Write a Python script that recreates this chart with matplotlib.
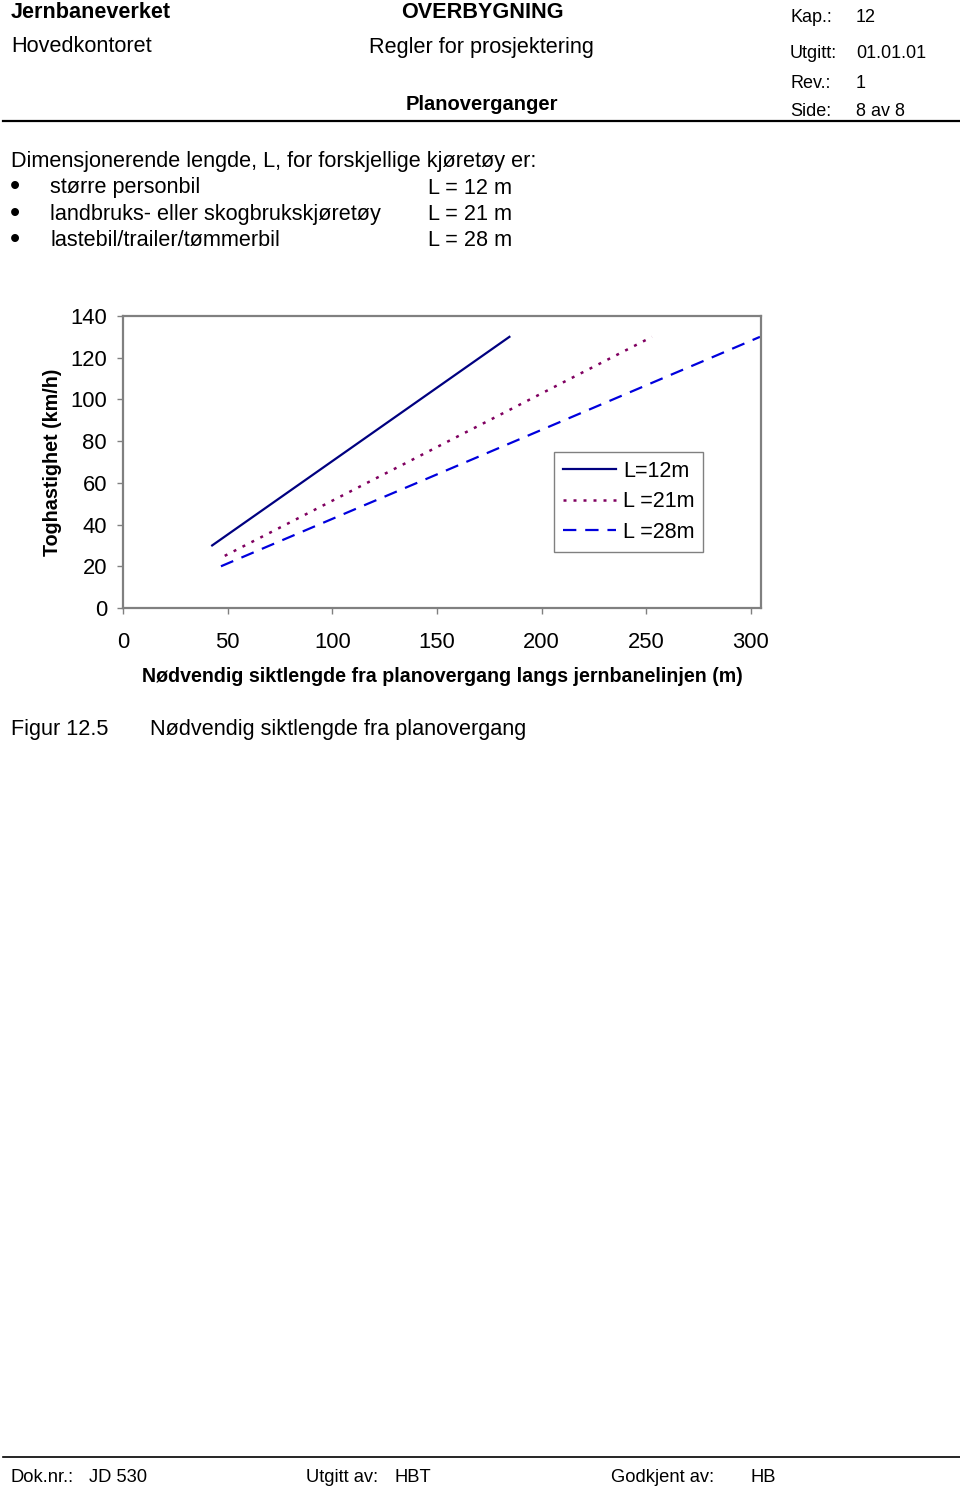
import matplotlib
matplotlib.use("Agg")
import matplotlib.pyplot as plt
from matplotlib.lines import Line2D

plt.rcParams['font.family'] = ['Liberation Sans', 'DejaVu Sans']

# data (speed km/h -> sight distance m)
fart_12 = [30, 40, 50, 60, 70, 80, 90, 100, 110, 120, 130]
sikt_12 = [42.6, 56.8, 71.0, 85.2, 99.4, 113.6, 127.8, 142.0, 156.2, 170.4, 184.6]
fart_21 = [25, 30, 40, 50, 60, 70, 80, 90, 100, 110, 120, 130]
sikt_21 = [48.6, 58.3, 77.8, 97.2, 116.6, 136.1, 155.5, 175.0, 194.4, 213.8, 233.3, 252.7]
fart_28 = [20, 30, 40, 50, 60, 70, 80, 90, 100, 110, 120, 130]
sikt_28 = [46.8, 70.2, 93.6, 117.0, 140.5, 163.9, 187.3, 210.7, 234.1, 257.5, 281.0, 304.3]
x_ticks = [0, 50, 100, 150, 200, 250, 300]
y_ticks = [0, 20, 40, 60, 80, 100, 120, 140]
etiketter = ['L=12m', 'L =21m', 'L =28m']

W, H = 960, 1487
fig = plt.figure(figsize=(9.6, 14.87), dpi=100)

def fx(px):
    return px / W

def fy(py):
    return 1 - (py + 2) / H  # text sits a bit lower than its centre

fs = 15.6  # body size

# header
fig.text(fx(11), fy(11), 'Jernbaneverket', fontsize=fs, fontweight='bold', va='center')
fig.text(fx(11), fy(45), 'Hovedkontoret', fontsize=fs, va='center')
fig.text(fx(482), fy(11), 'OVERBYGNING', fontsize=fs, fontweight='bold', va='center', ha='center')
fig.text(fx(481), fy(45), 'Regler for prosjektering', fontsize=fs, va='center', ha='center')
fig.text(fx(482), fy(103), 'Planoverganger', fontsize=14.5, fontweight='bold', va='center', ha='center')
for lab, val, yy in [('Kap.:', '12', 16), ('Utgitt:', '01.01.01', 51),
                     ('Rev.:', '1', 81), ('Side:', '8 av 8', 110)]:
    fig.text(fx(790), fy(yy), lab, fontsize=13, va='center')
    fig.text(fx(856), fy(yy), val, fontsize=13, va='center')
fig.add_artist(Line2D([fx(3), fx(960)], [1 - 121 / H, 1 - 121 / H], color='black', lw=1.6))

# body text
fig.text(fx(11), fy(160), 'Dimensjonerende lengde, L, for forskjellige kjøretøy er:', fontsize=fs, va='center')
rader = [('større personbil', 'L = 12 m'),
         ('landbruks- eller skogbrukskjøretøy', 'L = 21 m'),
         ('lastebil/trailer/tømmerbil', 'L = 28 m')]
for i, (a, b) in enumerate(rader):
    yy = 186 + i * 26.5
    fig.text(fx(10), fy(yy - 1), '•', fontsize=21, va='center')
    fig.text(fx(50), fy(yy), a, fontsize=fs, va='center')
    fig.text(fx(428), fy(yy), b, fontsize=fs, va='center')

# chart
ax = fig.add_axes([fx(123), 1 - 608 / H, fx(761 - 123), (608 - 316) / H])
ax.plot(sikt_12, fart_12, color='#000080', lw=1.6, ls='-', label=etiketter[0])
ax.plot(sikt_21, fart_21, color='#800060', lw=1.8, ls=(0, (1.2, 2.8)), label=etiketter[1])
ax.plot(sikt_28, fart_28, color='#0000dd', lw=1.6, ls=(0, (6, 4)), label=etiketter[2])
ax.set_xlim(0, 304.8)
ax.set_ylim(0, 140)
ax.set_xticks(x_ticks)
ax.set_yticks(y_ticks)
for s in ax.spines.values():
    s.set_color('#808080')
    s.set_linewidth(1.6)
ax.tick_params(axis='both', colors='#808080', labelcolor='black', labelsize=15.8,
               length=4, width=1.0, direction='out')
ax.tick_params(axis='x', pad=13.5)
ax.tick_params(axis='y', pad=7.5)
ax.set_xlabel('Nødvendig siktlengde fra planovergang langs jernbanelinjen (m)',
              fontsize=14.1, fontweight='bold', labelpad=10)
ax.set_ylabel('Toghastighet (km/h)', fontsize=14.2, fontweight='bold', labelpad=6)
leg = ax.legend(loc='upper left', bbox_to_anchor=((554 - 123) / 638, (608 - 452) / 292),
                fontsize=15.5, frameon=True, fancybox=False, framealpha=1,
                handlelength=2.5, handletextpad=0.3, borderpad=0.4, labelspacing=0.45,
                borderaxespad=0)
leg.get_frame().set_edgecolor('#808080')
leg.get_frame().set_linewidth(1.0)

# caption
fig.text(fx(11), fy(728), 'Figur 12.5', fontsize=fs, va='center')
fig.text(fx(150), fy(728), 'Nødvendig siktlengde fra planovergang', fontsize=fs, va='center')

# footer
fig.add_artist(Line2D([fx(3), fx(960)], [1 - 1457 / H, 1 - 1457 / H], color='black', lw=1.2))
for txt, xx in [('Dok.nr.:', 11), ('JD 530', 89), ('Utgitt av:', 306), ('HBT', 394),
                ('Godkjent av:', 611), ('HB', 750)]:
    fig.text(fx(xx), fy(1475), txt, fontsize=13.2, va='center')

fig.savefig('out.png', dpi=100)
